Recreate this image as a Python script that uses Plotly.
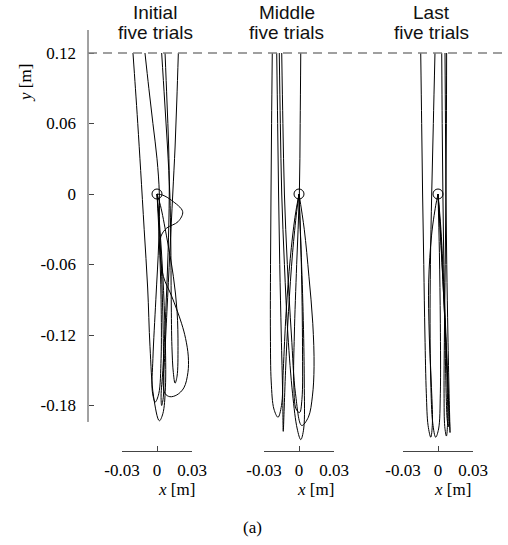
import plotly.graph_objects as go

# ---------------- data (metres) ----------------
panel_titles = ["Initial", "Middle", "Last"]
subtitle = "five trials"

initial_x = [
    [-0.0206, -0.0185, -0.0165, -0.0140, -0.0110, -0.0080, -0.0060, -0.0030, 0.0020, 0.0050, 0.0072, 0.0070, 0.0050, 0.0025, 0.0],
    [-0.0103, -0.0070, -0.0035, 0.0000, 0.0020, 0.0015, -0.0010, -0.0035, -0.0040, -0.0015, 0.0015, 0.0035, 0.0035, 0.0020, 0.0],
    [0.0040, 0.0065, 0.0090, 0.0110, 0.0118, 0.0122, 0.0128, 0.0140, 0.0155, 0.0172, 0.0180, 0.0172, 0.0140, 0.0080, 0.0030, 0.0],
    [0.0069, 0.0085, 0.0100, 0.0105, 0.0095, 0.0075, 0.0050, 0.0035, 0.0040, 0.0055, 0.0055, 0.0040, 0.0015, 0.0],
    [0.0183, 0.0170, 0.0155, 0.0135, 0.0110, 0.0085, 0.0065, 0.0054, 0.0070, 0.0110, 0.0170, 0.0230, 0.0265, 0.0268,
     0.0245, 0.0210, 0.0126, 0.0054, 0.0026, 0.0034, 0.0083, 0.0180, 0.0220, 0.0126, 0.0050, 0.0],
]
initial_y = [
    [0.12, 0.09, 0.06, 0.02, -0.03, -0.08, -0.13, -0.172, -0.193, -0.187, -0.165, -0.12, -0.07, -0.03, 0.0],
    [0.12, 0.09, 0.06, 0.03, 0.0, -0.04, -0.09, -0.14, -0.168, -0.177, -0.170, -0.14, -0.09, -0.04, 0.0],
    [0.12, 0.08, 0.04, 0.0, -0.04, -0.09, -0.13, -0.152, -0.161, -0.155, -0.13, -0.10, -0.07, -0.035, -0.01, 0.0],
    [0.12, 0.08, 0.04, 0.0, -0.05, -0.10, -0.15, -0.172, -0.18, -0.172, -0.13, -0.07, -0.02, 0.0],
    [0.12, 0.08, 0.04, 0.0, -0.05, -0.10, -0.14, -0.163, -0.170, -0.1725, -0.171, -0.165, -0.152, -0.138,
     -0.123, -0.110, -0.087, -0.070, -0.048, -0.036, -0.029, -0.0236, -0.015, -0.0055, -0.001, 0.0],
]

middle_x = [
    [-0.0229, -0.0235, -0.0240, -0.0244, -0.0245, -0.0238, -0.0215, -0.0180, -0.0150, -0.0135, -0.0110, -0.0075, -0.0035, 0.0],
    [-0.0191, -0.0183, -0.0175, -0.0165, -0.0152, -0.0140, -0.0135, -0.0128, -0.0115, -0.0090, -0.0055, -0.0020, 0.0],
    [-0.0169, -0.0160, -0.0148, -0.0125, -0.0095, -0.0055, -0.0015, 0.0015, 0.0040, 0.0045, 0.0035, 0.0015, 0.0],
    [-0.0148, -0.0138, -0.0125, -0.0100, -0.0065, -0.0030, 0.0023, 0.0080, 0.0115, 0.0129, 0.0118, 0.0085, 0.0045, 0.0],
    [0.0015, 0.0010, 0.0003, -0.0020, -0.0040, -0.0045, -0.0025, 0.0005, 0.0025, 0.0030, 0.0020, 0.0],
]
middle_y = [
    [0.12, 0.06, 0.0, -0.06, -0.12, -0.16, -0.183, -0.19, -0.18, -0.15, -0.10, -0.055, -0.02, 0.0],
    [0.12, 0.06, 0.0, -0.06, -0.12, -0.17, -0.202, -0.185, -0.15, -0.10, -0.05, -0.015, 0.0],
    [0.12, 0.06, 0.0, -0.06, -0.12, -0.17, -0.200, -0.209, -0.200, -0.16, -0.10, -0.04, 0.0],
    [0.12, 0.06, 0.0, -0.06, -0.12, -0.17, -0.197, -0.19, -0.172, -0.147, -0.11, -0.07, -0.03, 0.0],
    [0.12, 0.06, 0.0, -0.06, -0.12, -0.16, -0.183, -0.186, -0.175, -0.13, -0.06, 0.0],
]

last_x = [
    [-0.0148, -0.0140, -0.0132, -0.0122, -0.0112, -0.0100, -0.0085, -0.0062, -0.0048, -0.0058, -0.0075, -0.0080, -0.0055, -0.0020, 0.0],
    [-0.0026, -0.0040, -0.0054, -0.0065, -0.0068, -0.0062, -0.0045, -0.0020, 0.0005, 0.0020, 0.0020, 0.0012, 0.0],
    [0.0032, 0.0036, 0.0042, 0.0050, 0.0060, 0.0070, 0.0080, 0.0090, 0.0092, 0.0080, 0.0055, 0.0025, 0.0],
    [0.0060, 0.0064, 0.0068, 0.0075, 0.0085, 0.0095, 0.0103, 0.0095, 0.0075, 0.0045, 0.0015, 0.0],
    [0.0074, 0.0072, 0.0068, 0.0062, 0.0055, 0.0052, 0.0058, 0.0072, 0.0082, 0.0075, 0.0050, 0.0020, 0.0],
]
last_y = [
    [0.12, 0.06, 0.0, -0.06, -0.12, -0.17, -0.197, -0.207, -0.195, -0.16, -0.12, -0.075, -0.035, -0.01, 0.0],
    [0.12, 0.06, 0.0, -0.06, -0.11, -0.16, -0.195, -0.207, -0.200, -0.17, -0.11, -0.05, 0.0],
    [0.12, 0.06, 0.0, -0.06, -0.12, -0.17, -0.193, -0.198, -0.185, -0.15, -0.09, -0.03, 0.0],
    [0.12, 0.06, 0.0, -0.06, -0.12, -0.17, -0.203, -0.185, -0.14, -0.08, -0.025, 0.0],
    [0.12, 0.06, 0.0, -0.06, -0.12, -0.17, -0.198, -0.206, -0.195, -0.15, -0.09, -0.03, 0.0],
]

target_x = [0.0]
target_y = [0.0]
start_line_y = 0.12
y_axis_top = 0.1396
y_axis_bottom = -0.194

y_tickvals = [0.12, 0.06, 0.0, -0.06, -0.12, -0.18]
y_ticktext = ["0.12", "0.06", "0", "-0.06", "-0.12", "-0.18"]
x_tickvals = [-0.03, 0.0, 0.03]
x_ticktext = ["-0.03", "0", "0.03"]

# ---------------- layout geometry ----------------
W, H = 508, 545
def px(x):
    return x / W
def py(y):
    return 1 - y / H

SERIF = "Liberation Serif"
SANS = "Liberation Sans"
AXIS_COLOR = "#444444"

panels = [(initial_x, initial_y), (middle_x, middle_y), (last_x, last_y)]
axis_names = ["x", "x2", "x3"]
x_domains = [[px(122), px(192)], [px(264), px(334)], [px(403), px(473)]]

fig = go.Figure()

for (xs, ys), ax in zip(panels, axis_names):
    for tx, ty in zip(xs, ys):
        fig.add_trace(go.Scatter(
            x=tx, y=ty, xaxis=ax, yaxis="y", mode="lines",
            line=dict(color="black", width=1, shape="spline", smoothing=1.0),
            hoverinfo="skip", showlegend=False))
    fig.add_trace(go.Scatter(
        x=target_x, y=target_y, xaxis=ax, yaxis="y", mode="markers",
        marker=dict(symbol="circle-open", size=10, color="black", line=dict(width=1)),
        hoverinfo="skip", showlegend=False))

axis_common = dict(
    range=[-0.03, 0.03], tickvals=x_tickvals, ticktext=x_ticktext,
    ticks="inside", ticklen=5, tickwidth=1, tickcolor=AXIS_COLOR,
    showline=True, linecolor=AXIS_COLOR, linewidth=1,
    showgrid=False, zeroline=False, anchor="free", position=py(451),
    tickfont=dict(family=SERIF, size=17, color="black"),
    ticklabelstandoff=4, fixedrange=True, automargin=False,
)

layout = dict(
    template="none",
    width=W, height=H,
    margin=dict(l=0, r=0, t=0, b=0, pad=0, autoexpand=False),
    paper_bgcolor="white", plot_bgcolor="white",
    showlegend=False,
    yaxis=dict(
        domain=[py(446), py(30)], range=[(194 - 446) / 1175.0, (194 - 30) / 1175.0],
        anchor="free", position=px(88),
        tickvals=y_tickvals, ticktext=y_ticktext,
        ticks="inside", ticklen=5, tickwidth=1, tickcolor=AXIS_COLOR,
        showline=False,
        showgrid=False, zeroline=False,
        tickfont=dict(family=SERIF, size=17, color="black"),
        ticklabelstandoff=12, fixedrange=True, automargin=False,
    ),
)
for i, ax in enumerate(axis_names):
    key = "xaxis" if i == 0 else f"xaxis{i+1}"
    layout[key] = dict(axis_common, domain=x_domains[i])

fig.update_layout(**layout)

# y axis line (shorter than the plotting area, as in the reference)
fig.add_shape(type="line", xref="paper", yref="y", x0=px(88), x1=px(88),
              y0=y_axis_bottom, y1=y_axis_top,
              line=dict(color=AXIS_COLOR, width=1))

# dashed start line
fig.add_shape(type="line", xref="paper", yref="y", x0=px(88), x1=1.0,
              y0=start_line_y, y1=start_line_y,
              line=dict(color="#808080", width=1.5, dash="9px,6px"))

# annotations
title_x = [155, 286.5, 431.5]
xlab_x = [176, 315, 452]
for t, tx, lx in zip(panel_titles, title_x, xlab_x):
    fig.add_annotation(x=px(tx), y=py(12), xref="paper", yref="paper", text=t,
                       showarrow=False, xanchor="center", yanchor="middle",
                       font=dict(family=SANS, size=19, color="#111"))
    fig.add_annotation(x=px(tx), y=py(33), xref="paper", yref="paper", text=subtitle,
                       showarrow=False, xanchor="center", yanchor="middle",
                       font=dict(family=SANS, size=19, color="#111"))
    fig.add_annotation(x=px(lx), y=py(489), xref="paper", yref="paper",
                       text="<i>x</i> [m]", showarrow=False, xanchor="center", yanchor="middle",
                       font=dict(family=SERIF, size=17, color="black"))

fig.add_annotation(x=px(25), y=py(83), xref="paper", yref="paper",
                   text="<i>y</i> [m]", textangle=-90, showarrow=False,
                   xanchor="center", yanchor="middle",
                   font=dict(family=SERIF, size=17, color="black"))
fig.add_annotation(x=px(252), y=py(527), xref="paper", yref="paper",
                   text="(a)", showarrow=False, xanchor="center", yanchor="middle",
                   font=dict(family=SERIF, size=17, color="black"))

fig.write_html("out.html", config={"displayModeBar": False})
